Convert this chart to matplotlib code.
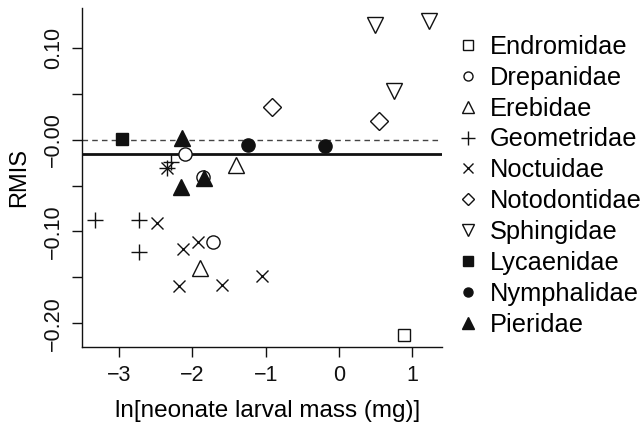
import numpy as np
import matplotlib.pyplot as plt
from matplotlib.lines import Line2D

plt.rcParams["font.family"] = ["Liberation Sans", "DejaVu Sans"]

# values: ln(neonate mass) and RMIS per species
endromidae_x = [0.88]
endromidae_y = [-0.213]
drepanidae_x = [-2.10, -1.85, -1.72]
drepanidae_y = [-0.016, -0.041, -0.111]
erebidae_x = [-1.41, -1.89]
erebidae_y = [-0.028, -0.140]
geometridae_x = [-2.29, -2.35, -3.32, -2.72, -2.72]
geometridae_y = [-0.024, -0.031, -0.087, -0.087, -0.122]
noctuidae_x = [-2.35, -2.48, -2.12, -1.92, -2.18, -1.59, -1.045]
noctuidae_y = [-0.031, -0.091, -0.119, -0.112, -0.160, -0.158, -0.149]
notodontidae_x = [-0.91, 0.55]
notodontidae_y = [0.036, 0.020]
sphingidae_x = [0.49, 1.23, 0.75]
sphingidae_y = [0.125, 0.129, 0.053]
lycaenidae_x = [-2.96]
lycaenidae_y = [0.001]
nymphalidae_x = [-1.235, -0.187]
nymphalidae_y = [-0.006, -0.0065]
pieridae_x = [-2.14, -2.16, -1.84]
pieridae_y = [0.002, -0.052, -0.042]

fit_level = -0.0153

families = ["Endromidae", "Drepanidae", "Erebidae", "Geometridae", "Noctuidae",
            "Notodontidae", "Sphingidae", "Lycaenidae", "Nymphalidae", "Pieridae"]
xs = [endromidae_x, drepanidae_x, erebidae_x, geometridae_x, noctuidae_x,
      notodontidae_x, sphingidae_x, lycaenidae_x, nymphalidae_x, pieridae_x]
ys = [endromidae_y, drepanidae_y, erebidae_y, geometridae_y, noctuidae_y,
      notodontidae_y, sphingidae_y, lycaenidae_y, nymphalidae_y, pieridae_y]

# marker, filled, plot size, legend size
styles = [("s", False, 9, 6.5), ("o", False, 9.5, 6.5), ("^", False, 11.5, 8),
          ("+", False, 12, 10), ("x", False, 9, 7), ("D", False, 9.5, 6.5),
          ("v", False, 12, 8), ("s", True, 9, 6.5), ("o", True, 9.5, 6.5),
          ("^", True, 11.5, 8)]

fig = plt.figure(figsize=(6.44, 4.25), dpi=100)
ax = fig.add_axes([0.127, 0.1835, 0.559, 0.7975])

ax.axhline(0, color="#444444", lw=1, ls=(0, (4, 3)))
ax.axhline(fit_level, color="#111111", lw=2)

handles = []
for name, x, y, (m, filled, ms, lms) in zip(families, xs, ys, styles):
    fc = "#111111" if filled else "white"
    ax.plot(x, y, ls="none", marker=m, ms=ms, mfc=fc, mec="#111111", mew=1)
    handles.append(Line2D([], [], ls="none", marker=m, ms=lms, mfc=fc,
                          mec="#111111", mew=1, label=name))

ax.set_xlim(-3.505, 1.40)
ax.set_ylim(-0.226, 0.1436)
ax.set_xticks([-3, -2, -1, 0, 1])
ax.set_xticklabels(["\u22123", "\u22122", "\u22121", "0", "1"])
yt = np.arange(-0.20, 0.101, 0.05)
ax.set_yticks(yt)
ax.set_yticklabels([("%.2f" % v).replace("-", "\u2212") if i % 2 == 0 else ""
                    for i, v in enumerate(yt)], rotation=90, va="center")
ax.tick_params(direction="out", length=7, width=1, labelsize=15.5, colors="#111111")
ax.tick_params(axis="x", pad=6)
ax.tick_params(axis="y", pad=6)
for s in ["top", "right"]:
    ax.spines[s].set_visible(False)
for s in ["left", "bottom"]:
    ax.spines[s].set_linewidth(1)
    ax.spines[s].set_color("#111111")

ax.set_xlabel("ln[neonate larval mass (mg)]", fontsize=17.5)
ax.xaxis.set_label_coords(0.515, -0.155)
ax.set_ylabel("RMIS", fontsize=17, labelpad=9)

fig.legend(handles=handles, loc="upper left", bbox_to_anchor=(0.699, 0.942),
           frameon=False, fontsize=18.3, handlelength=0.6, handletextpad=0.57,
           labelspacing=0.27, borderaxespad=0)

fig.savefig("out.png", dpi=100)
